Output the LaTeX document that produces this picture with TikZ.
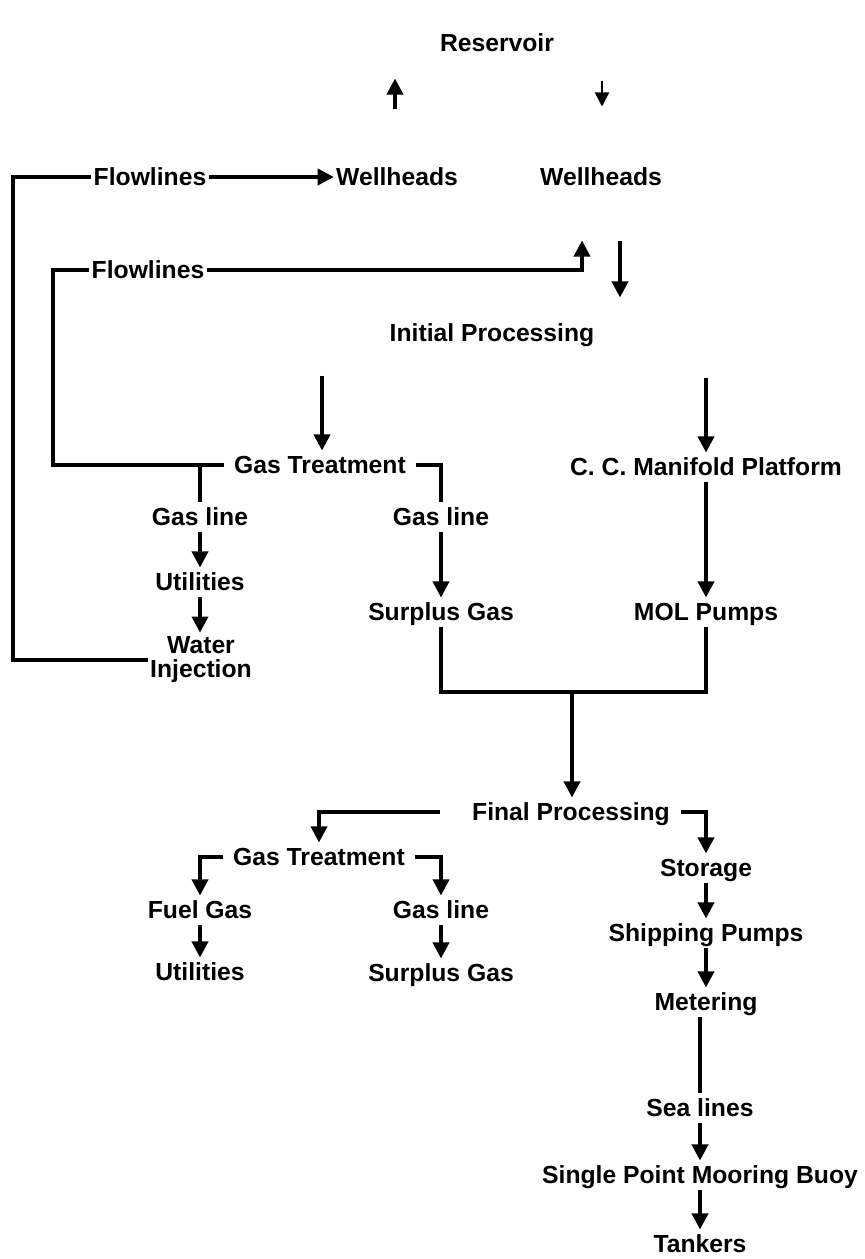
\documentclass[tikz,border=0pt]{standalone}
\usepackage{fontspec}
\setmainfont{Liberation Sans}
\usetikzlibrary{arrows.meta}
\begin{document}
\begin{tikzpicture}[x=0.5pt,y=-0.5pt,
  lbl/.style={font=\fontsize{12.35}{14}\selectfont\bfseries, inner xsep=1pt, inner ysep=0pt, text height=11.5pt, text depth=2.62pt},
  lbltwo/.style={font=\fontsize{12.35}{12}\selectfont\bfseries, inner xsep=1pt, inner ysep=2pt, align=center},
  ln/.style={line width=1.8pt},
  arr/.style={ln, -{Triangle[width=8pt,length=8pt]}},
  arrthin/.style={line width=1pt, -{Triangle[width=7pt,length=7pt]}}]
\fill[white] (0,0) rectangle (865,1259);
\useasboundingbox (0,0) rectangle (865,1259);

% nodes
\node[lbl] (res) at (497,43) {Reservoir};
\node[lbl] (wh1) at (397,177) {Wellheads};
\node[lbl] (wh2) at (601,177) {Wellheads};
\node[lbl] (fl1) at (150,177) {Flowlines};
\node[lbl] (fl2) at (148,270) {Flowlines};
\node[lbl] (ip) at (492,333) {Initial Processing};
\node[lbl] (gt1) at (320,465) {Gas Treatment};
\node[lbl] (ccm) at (706,467) {C. C. Manifold Platform};
\node[lbl] (gl1) at (200,517) {Gas line};
\node[lbl] (gl2) at (441,517) {Gas line};
\node[lbl] (ut1) at (200,582) {Utilities};
\node[lbl] (sg1) at (441,612) {Surplus Gas};
\node[lbl] (mol) at (706,612) {MOL Pumps};
\node[lbltwo] (wi) at (201,660) {Water\\Injection};
\node[lbl] (fp) at (571,812) {Final Processing};
\node[lbl] (gt2) at (319,857) {Gas Treatment};
\node[lbl] (sto) at (706,868) {Storage};
\node[lbl] (fg) at (200,910) {Fuel Gas};
\node[lbl] (gl3) at (441,910) {Gas line};
\node[lbl] (shp) at (706,933) {Shipping Pumps};
\node[lbl] (ut2) at (200,972) {Utilities};
\node[lbl] (sg2) at (441,973) {Surplus Gas};
\node[lbl] (met) at (706,1002) {Metering};
\node[lbl] (sea) at (700,1108) {Sea lines};
\node[lbl] (spm) at (700,1175) {Single Point Mooring Buoy};
\node[lbl] (tan) at (700,1244) {Tankers};

% helper coordinates
\coordinate (xL) at (13,0);
\coordinate (xM) at (53,0);
\coordinate (xU) at (395,0);
\coordinate (xD) at (602,0);
\coordinate (xF) at (582,0);
\coordinate (xI) at (620,0);
\coordinate (xG) at (322,0);
\coordinate (merge) at (572,692);

% connectors
\draw[arr, shorten <=26.5pt, shorten >=10.5pt] (xU |- wh1.north) -- (xU |- res.south);
\draw[arrthin, shorten <=11.5pt, shorten >=28pt] (xD |- res.south) -- (xD |- wh2.north);
\draw[arr] (fl1.east) -- (wh1.west);
\draw[ln] (wi.west) -| (xL |- fl1.west) -- (fl1.west);
\draw[ln, shorten <=4pt] (gt1.west) -| (xM |- fl2.west) -- (fl2.west);
\draw[arr, shorten >=24.5pt] (fl2.east) -| (xF |- wh2.south);
\draw[arr, shorten <=24.5pt, shorten >=10.5pt] (xI |- wh2.south) -- (xI |- ip.north);
\draw[arr, shorten <=14pt] (xG |- ip.south) -- (xG |- gt1.north);
\draw[arr, shorten <=15pt] (ip.south -| ccm.north) -- (ccm.north);
\draw[ln] (gt1.west -| gl1.north) -- (gl1.north);
\draw[arr] (gl1.south) -- (ut1.north);
\draw[arr] (ut1.south) -- (wi.north -| ut1.south);
\draw[ln, shorten <=4pt] (gt1.east) -| (gl2.north);
\draw[arr] (gl2.south) -- (sg1.north);
\draw[arr] (ccm.south) -- (mol.north);
\draw[ln] (sg1.south) |- (merge) -| (mol.south);
\draw[arr] (merge) -- (merge |- fp.north);
\draw[arr, shorten <=15pt] (fp.west) -| (gt2.north);
\draw[arr, shorten <=4.5pt] (fp.east) -| (sto.north);
\draw[arr, shorten <=4pt] (gt2.west) -| (fg.north);
\draw[arr, shorten <=4pt] (gt2.east) -| (gl3.north);
\draw[arr] (fg.south) -- (ut2.north);
\draw[arr] (gl3.south) -- (sg2.north);
\draw[arr] (sto.south) -- (shp.north);
\draw[arr] (shp.south) -- (met.north);
\draw[ln] (met.south -| sea.north) -- (sea.north);
\draw[arr] (sea.south) -- (spm.north);
\draw[arr] (spm.south) -- (tan.north);
\end{tikzpicture}
\end{document}
